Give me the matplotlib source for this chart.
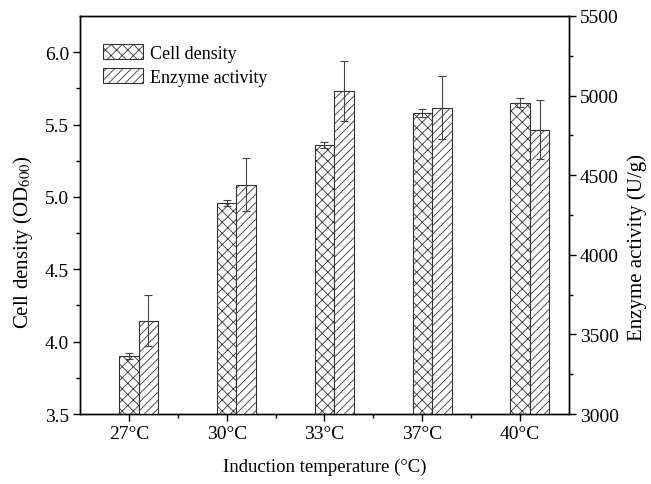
import matplotlib.pyplot as plt
import matplotlib as mpl
from matplotlib.ticker import FixedLocator, MultipleLocator
import numpy as np

temps = ['27°C', '30°C', '33°C', '37°C', '40°C']
cell_density = [3.90, 4.96, 5.36, 5.58, 5.65]
cell_err = [0.02, 0.02, 0.02, 0.03, 0.03]
enzyme = [3585, 4440, 5030, 4925, 4785]
enzyme_err = [160, 165, 190, 200, 185]

mpl.rcParams['font.family'] = ['Liberation Serif', 'DejaVu Serif']
mpl.rcParams['mathtext.fontset'] = 'stix'
mpl.rcParams['font.size'] = 14
mpl.rcParams['hatch.linewidth'] = 0.6
mpl.rcParams['axes.linewidth'] = 1.0

fig = plt.figure(figsize=(6.51, 4.85), dpi=100)
ax = fig.add_axes([0.1229, 0.1443, 0.7511, 0.8207])
ax2 = ax.twinx()

x = np.arange(len(temps))
w = 0.2
err_kw = dict(ecolor='#444444', elinewidth=0.8, capthick=0.8)

b1 = ax.bar(x, cell_density, w, yerr=cell_err, color='white', edgecolor='#333333',
            hatch='xxx', linewidth=0.8, capsize=3, error_kw=err_kw, label='Cell density')
b2 = ax2.bar(x + w, enzyme, w, yerr=enzyme_err, color='white', edgecolor='#333333',
             hatch='////', linewidth=0.8, capsize=3, error_kw=err_kw, label='Enzyme activity')

ax.set_xlim(-0.5, 4.5)
ax.set_xticks(x)
ax.set_xticklabels(temps)
ax.xaxis.set_minor_locator(FixedLocator(x[:-1] + 0.5))

ax.set_ylim(3.5, 6.25)
ax.set_yticks(np.arange(3.5, 6.01, 0.5))
ax.yaxis.set_minor_locator(FixedLocator(np.arange(3.75, 6.0, 0.5)))
ax2.set_ylim(3000, 5500)
ax2.set_yticks(np.arange(3000, 5501, 500))
ax2.yaxis.set_minor_locator(MultipleLocator(250))

for a in (ax, ax2):
    a.tick_params(which='major', direction='out', length=5, width=1.0, pad=3)
    a.tick_params(which='minor', direction='out', length=3, width=1.0)

ax.set_xlabel('Induction temperature (°C)', fontsize=13.5)
ax.xaxis.set_label_coords(0.5, -0.11)
ax.set_ylabel(r'Cell density (OD$_{600}$)', fontsize=15)
ax.yaxis.set_label_coords(-0.092, 0.435)
ax2.set_ylabel('Enzyme activity (U/g)', fontsize=15)
ax2.yaxis.set_label_coords(1.12, 0.42)

ax2.legend(handles=[b1, b2], loc='upper left', bbox_to_anchor=(0.047, 0.93),
           frameon=False, borderpad=0, borderaxespad=0, handlelength=2.2,
           handleheight=0.9, handletextpad=0.4, labelspacing=0.35, fontsize=13)

fig.savefig('out.png', dpi=100)
